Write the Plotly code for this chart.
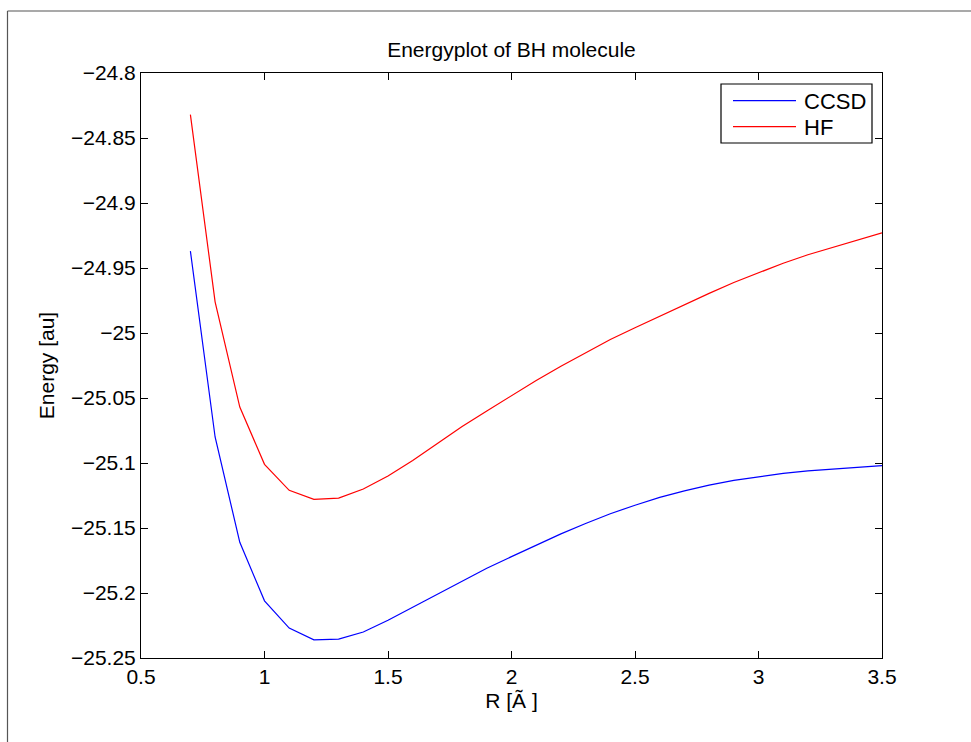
import plotly.graph_objects as go

# ---- data ----
R = [0.7, 0.8, 0.9, 1.0, 1.1, 1.2, 1.3, 1.4, 1.5, 1.6, 1.7, 1.8, 1.9, 2.0,
     2.1, 2.2, 2.3, 2.4, 2.5, 2.6, 2.7, 2.8, 2.9, 3.0, 3.1, 3.2, 3.3, 3.4, 3.5]

ccsd = [-24.937, -25.080, -25.161, -25.206, -25.227, -25.236, -25.2355, -25.230,
        -25.221, -25.211, -25.201, -25.191, -25.181, -25.172, -25.163, -25.1545,
        -25.1465, -25.139, -25.1325, -25.1265, -25.1215, -25.117, -25.1133, -25.1105,
        -25.108, -25.106, -25.1045, -25.1033, -25.102]

hf = [-24.832, -24.976, -25.057, -25.101, -25.121, -25.128, -25.127, -25.120,
      -25.110, -25.098, -25.085, -25.072, -25.060, -25.048, -25.0365, -25.0255,
      -25.015, -25.005, -24.996, -24.987, -24.978, -24.9695, -24.9612, -24.9535,
      -24.9463, -24.9398, -24.934, -24.9285, -24.923]

series_names = ["CCSD", "HF"]
series_colors = ["#0000FF", "#FF0000"]

x_ticks = [0.5, 1, 1.5, 2, 2.5, 3, 3.5]
x_ticktext = ["0.5", "1", "1.5", "2", "2.5", "3", "3.5"]
y_ticks = [-24.8, -24.85, -24.9, -24.95, -25.0, -25.05, -25.1, -25.15, -25.2, -25.25]
y_ticktext = ["\u221224.8", "\u221224.85", "\u221224.9", "\u221224.95", "\u221225",
              "\u221225.05", "\u221225.1", "\u221225.15", "\u221225.2", "\u221225.25"]

title_text = "Energyplot of BH molecule"
x_label = "R [\u00c3 ]"
y_label = "Energy [au]"

# ---- figure ----
W, H = 971, 742
L, RR, T, B = 141, 89, 73, 84
pw, ph = W - L - RR, H - T - B

def px_x(px):
    return (px - L) / pw

def px_y(py):
    return (H - B - py) / ph

FONT = "Liberation Sans, Arial, Helvetica, sans-serif"
FS = 21

fig = go.Figure()
for name, ys, col in zip(series_names, [ccsd, hf], series_colors):
    fig.add_trace(go.Scatter(x=R, y=ys, mode="lines", name=name,
                             line=dict(color=col, width=1.2), showlegend=False))

axis_common = dict(showgrid=False, zeroline=False, showline=True, linecolor="black",
                   linewidth=1, mirror="ticks", ticks="inside", ticklen=7,
                   tickcolor="black", tickwidth=1,
                   tickfont=dict(family=FONT, size=FS, color="black"))

fig.update_xaxes(range=[0.5, 3.5], tickmode="array", tickvals=x_ticks,
                 ticktext=x_ticktext,
                 title=dict(text=x_label, font=dict(family=FONT, size=FS, color="black"),
                            standoff=6),
                 **axis_common)
fig.update_yaxes(range=[-25.25, -24.8], tickmode="array", tickvals=y_ticks,
                 ticktext=y_ticktext,
                 title=dict(text=y_label, font=dict(family=FONT, size=FS, color="black"),
                            standoff=10),
                 **axis_common)

# custom MATLAB-style legend box
shapes = [
    dict(type="line", xref="paper", yref="paper",
         x0=px_x(7.5), x1=px_x(7.5), y0=px_y(742), y1=px_y(11),
         line=dict(color="#555555", width=1.2)),
    dict(type="line", xref="paper", yref="paper",
         x0=px_x(7.5), x1=px_x(971), y0=px_y(11), y1=px_y(11),
         line=dict(color="#555555", width=1.2)),
    dict(type="rect", xref="paper", yref="paper",
         x0=px_x(721), x1=px_x(872), y0=px_y(143), y1=px_y(84),
         line=dict(color="black", width=1.2), fillcolor="white", layer="above"),
]
annotations = []
row_y = [100.7, 126.7]
for name, col, ry in zip(series_names, series_colors, row_y):
    shapes.append(dict(type="line", xref="paper", yref="paper",
                       x0=px_x(733), x1=px_x(796), y0=px_y(ry), y1=px_y(ry),
                       line=dict(color=col, width=1.2), layer="above"))
    annotations.append(dict(text=name, xref="paper", yref="paper",
                            x=px_x(802), y=px_y(ry + 1), xanchor="left",
                            yanchor="middle", showarrow=False,
                            font=dict(family=FONT, size=FS + 1, color="black")))

fig.update_layout(
    width=W, height=H,
    margin=dict(l=L, r=RR, t=T, b=B, autoexpand=False),
    paper_bgcolor="white", plot_bgcolor="white",
    font=dict(family=FONT, size=FS, color="black"),
    title=dict(text=title_text, x=0.5, xref="paper", xanchor="center",
               y=1 - 50 / H, yanchor="middle",
               font=dict(family=FONT, size=FS, color="black")),
    showlegend=False,
    shapes=shapes,
    annotations=annotations,
)

fig.write_html("out.html")
